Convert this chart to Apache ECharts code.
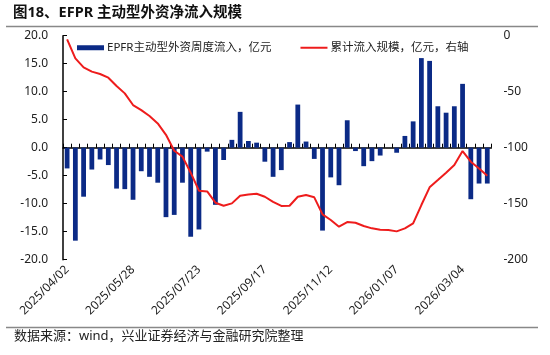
<!DOCTYPE html>
<html>
<head>
<meta charset="utf-8">
<script src="https://cdn.jsdelivr.net/npm/echarts@6/dist/echarts.min.js"></script>
<style>
html,body{margin:0;padding:0;background:#fff;}
#c{width:550px;height:355px;}
</style>
</head>
<body>
<div id="c"></div>
<script>
const dates = [
 '2025/04/02','2025/04/09','2025/04/16','2025/04/23','2025/04/30','2025/05/07','2025/05/14','2025/05/21',
 '2025/05/28','2025/06/04','2025/06/11','2025/06/18','2025/06/25','2025/07/02','2025/07/09','2025/07/16',
 '2025/07/23','2025/07/30','2025/08/06','2025/08/13','2025/08/20','2025/08/27','2025/09/03','2025/09/10',
 '2025/09/17','2025/09/24','2025/10/01','2025/10/08','2025/10/15','2025/10/22','2025/10/29','2025/11/05',
 '2025/11/12','2025/11/19','2025/11/26','2025/12/03','2025/12/10','2025/12/17','2025/12/24','2025/12/31',
 '2026/01/07','2026/01/14','2026/01/21','2026/01/28','2026/02/04','2026/02/11','2026/02/18','2026/02/25',
 '2026/03/04','2026/03/11','2026/03/18','2026/03/25'
];
const weeklyFlow = [
 -3.7,-16.6,-8.75,-3.9,-2.1,-3.1,-7.3,-7.4,
 -9.3,-4.2,-5.2,-6.25,-12.4,-12.0,-6.25,-15.9,
 -14.6,-0.7,-10.2,-2.2,1.4,6.4,1.2,0.9,
 -2.5,-5.2,-4.0,1.0,7.7,1.1,-2.0,-14.8,
 -5.3,-6.7,4.9,-0.6,-3.3,-2.4,-1.4,0,
 -0.9,2.1,4.7,16.0,15.5,7.4,6.25,7.4,
 11.4,-9.2,-6.4,-6.4
];
const cumulative = [
 -3.3,-20.2,-28.3,-32.1,-34.2,-37.5,-44.9,-51.5,
 -61.9,-66.4,-71.7,-78.3,-88.5,-102.7,-108,-122.3,
 -138.4,-139,-149.1,-151.8,-149.7,-142.9,-141.7,-141.1,
 -143.8,-148.4,-152,-151.8,-143.8,-142.3,-144.3,-159.5,
 -164.6,-170.5,-166.4,-167,-169.9,-172,-173.2,-173.5,
 -174.7,-172,-167.6,-151.2,-135.4,-128.9,-122.3,-115.5,
 -103,-112.5,-118.5,-125
];
const barName = 'EPFR主动型外资周度流入，亿元';
const lineName = '累计流入规模，亿元，右轴';
const titleText = '图18、EFPR 主动型外资净流入规模';
const sourceText = '数据来源：wind，兴业证券经济与金融研究院整理';

const FONT = "'Noto Sans', 'Noto Sans CJK SC', sans-serif";
const chart = echarts.init(document.getElementById('c'), null, {renderer:'canvas'});
chart.setOption({
  animation: false,
  backgroundColor: '#fff',
  textStyle: {fontFamily: FONT},
  title: {
    text: titleText, left: 13, top: 6, padding: 0,
    textStyle: {fontSize: 14.5, fontWeight: 'bold', color: '#111', fontFamily: FONT}
  },
  graphic: [
    {type:'line', shape:{x1:6,y1:26.5,x2:538,y2:26.5}, style:{stroke:'#888',lineWidth:1.5}},
    {type:'line', shape:{x1:6,y1:327.5,x2:538,y2:327.5}, style:{stroke:'#888',lineWidth:1.5}},
    {type:'text', left:14, top:330, style:{text:sourceText, fontSize:13, fill:'#222', fontFamily:FONT}}
  ],
  legend: {
    left: 77, top: 42, padding: 0, itemGap: 29,
    itemWidth: 27, itemHeight: 5,
    textStyle: {fontSize: 11.5, color: '#222', fontFamily: FONT, padding:[0,0,0,-2]},
    data: [
      {name: barName, icon: 'rect'},
      {name: lineName, icon: 'path://M0,0M0,10M0,3L54,3L54,7L0,7Z', itemStyle: {color: '#ee1c1c'}}
    ]
  },
  grid: {left: 63, right: 58.6, top: 35.7, bottom: 95.3, containLabel: false},
  xAxis: [
    {
      type: 'category', data: dates, position: 'bottom',
      axisLine: {show: false, onZero: false},
      axisTick: {show: false},
      axisLabel: {interval: 7, rotate: 45, fontSize: 12, color: '#222', margin: 8, fontFamily: FONT}
    },
    {
      type: 'category', data: dates, position: 'bottom',
      axisLine: {show: true, onZero: true, onZeroAxisIndex: 0, lineStyle: {color: '#000', width: 1.5}},
      axisTick: {show: true, inside: true, length: 4, interval: 0, lineStyle: {color: '#000', width: 1}},
      axisLabel: {show: false}
    }
  ],
  yAxis: [
    {
      type: 'value', min: -20, max: 20, interval: 5,
      axisLine: {show: true, lineStyle: {color: '#000', width: 1.5}},
      axisTick: {show: true, inside: true, length: 4, lineStyle: {color: '#000'}},
      splitLine: {show: false},
      axisLabel: {fontSize: 12, color: '#222', margin: 15, formatter: v => v.toFixed(1), fontFamily: FONT}
    },
    {
      type: 'value', min: -200, max: 0, interval: 50, position: 'right',
      axisLine: {show: false}, axisTick: {show: false}, splitLine: {show: false},
      axisLabel: {fontSize: 12, color: '#222', margin: 12, fontFamily: FONT}
    }
  ],
  series: [
    {
      name: barName, type: 'bar', xAxisIndex: 0, yAxisIndex: 0,
      data: weeklyFlow, barWidth: '58%',
      itemStyle: {color: '#0b2a86'}
    },
    {
      name: lineName, type: 'line', xAxisIndex: 0, yAxisIndex: 1,
      data: cumulative, symbol: 'none', smooth: false,
      lineStyle: {color: '#ee1c1c', width: 2}, itemStyle: {color: '#ee1c1c'}
    }
  ]
});
</script>
</body>
</html>
